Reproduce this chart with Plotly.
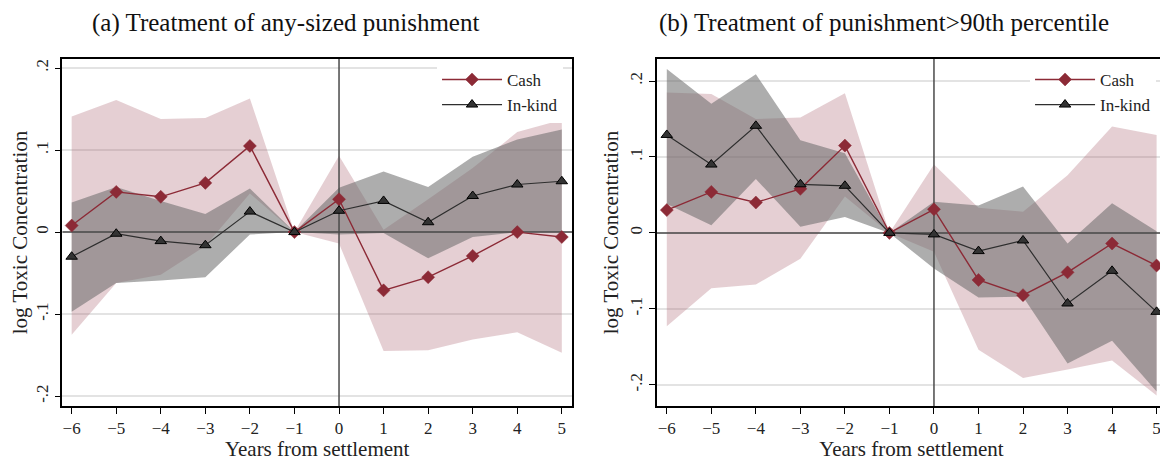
import plotly.graph_objects as go

years = [-6, -5, -4, -3, -2, -1, 0, 1, 2, 3, 4, 5]
tick_vals_y = [-0.2, -0.1, 0, 0.1, 0.2]
tick_text_y = ["-.2", "-.1", "0", ".1", ".2"]

# Panel (a): any-sized punishment
a_cash = [0.008, 0.049, 0.043, 0.060, 0.105, 0.0, 0.040, -0.071, -0.055, -0.029, 0.0, -0.006]
a_cash_hi = [0.141, 0.161, 0.138, 0.139, 0.163, 0.0, 0.093, 0.003, 0.040, 0.078, 0.122, 0.137]
a_cash_lo = [-0.125, -0.062, -0.052, -0.017, 0.047, 0.0, -0.014, -0.145, -0.144, -0.131, -0.122, -0.147]
a_kind = [-0.030, -0.002, -0.011, -0.016, 0.025, 0.0, 0.026, 0.038, 0.012, 0.044, 0.058, 0.062]
a_kind_hi = [0.036, 0.055, 0.038, 0.022, 0.053, 0.0, 0.054, 0.074, 0.055, 0.092, 0.113, 0.125]
a_kind_lo = [-0.097, -0.062, -0.059, -0.055, -0.003, 0.0, -0.003, -0.001, -0.032, -0.006, 0.0, 0.0]

# Panel (b): punishment > 90th percentile
b_cash = [0.030, 0.054, 0.040, 0.058, 0.115, 0.0, 0.031, -0.062, -0.082, -0.052, -0.014, -0.043]
b_cash_hi = [0.185, 0.183, 0.150, 0.152, 0.184, 0.0, 0.090, 0.033, 0.028, 0.076, 0.140, 0.129]
b_cash_lo = [-0.123, -0.073, -0.068, -0.034, 0.048, 0.0, -0.025, -0.154, -0.191, -0.180, -0.168, -0.214]
b_kind = [0.129, 0.090, 0.141, 0.064, 0.062, 0.0, -0.002, -0.024, -0.010, -0.093, -0.050, -0.104]
b_kind_hi = [0.216, 0.170, 0.209, 0.122, 0.105, 0.0, 0.041, 0.036, 0.061, -0.014, 0.039, 0.002]
b_kind_lo = [0.038, 0.010, 0.071, 0.008, 0.021, 0.0, -0.047, -0.085, -0.084, -0.172, -0.142, -0.209]

CASH = "#8C2A36"
KIND = "#2E2E2E"
PINK_FILL = "rgba(170,95,110,0.30)"
GRAY_FILL = "rgba(105,105,105,0.55)"
FONT = "Liberation Serif"

fig = go.Figure()

def add_panel(xa, ya, legend, cash, chi, clo, kind, khi, klo, xr, yr):
    fig.add_trace(go.Scatter(x=years + years[::-1], y=chi + clo[::-1], fill="toself",
                             fillcolor=PINK_FILL, line=dict(width=0), mode="lines",
                             hoverinfo="skip", showlegend=False, xaxis=xa, yaxis=ya))
    fig.add_trace(go.Scatter(x=years + years[::-1], y=khi + klo[::-1], fill="toself",
                             fillcolor=GRAY_FILL, line=dict(width=0), mode="lines",
                             hoverinfo="skip", showlegend=False, xaxis=xa, yaxis=ya))
    fig.add_trace(go.Scatter(x=[xr[0], xr[1]], y=[0, 0], mode="lines",
                             line=dict(color="#4a4a4a", width=1.5), hoverinfo="skip",
                             showlegend=False, xaxis=xa, yaxis=ya))
    fig.add_trace(go.Scatter(x=[0, 0], y=[yr[0], yr[1]], mode="lines",
                             line=dict(color="#4a4a4a", width=1.5), hoverinfo="skip",
                             showlegend=False, xaxis=xa, yaxis=ya))
    fig.add_trace(go.Scatter(x=years, y=cash, name="Cash", mode="lines+markers",
                             line=dict(color=CASH, width=1.4),
                             marker=dict(symbol="diamond", size=10, color=CASH,
                                         line=dict(color=CASH, width=0.5)),
                             xaxis=xa, yaxis=ya, legend=legend))
    fig.add_trace(go.Scatter(x=years, y=kind, name="In-kind", mode="lines+markers",
                             line=dict(color=KIND, width=1.2),
                             marker=dict(symbol="triangle-up", size=10, color="#333333",
                                         line=dict(color="#000000", width=1)),
                             xaxis=xa, yaxis=ya, legend=legend))

xr_a = [-6.21, 5.23]
yr_a = [-0.212, 0.211]
xr_b = [-6.224, 5.211]
yr_b = [-0.228, 0.229]

add_panel("x", "y", "legend", a_cash, a_cash_hi, a_cash_lo, a_kind, a_kind_hi, a_kind_lo, xr_a, yr_a)
add_panel("x2", "y2", "legend2", b_cash, b_cash_hi, b_cash_lo, b_kind, b_kind_hi, b_kind_lo, xr_b, yr_b)

xcommon = dict(tickmode="array", tickvals=years, ticks="outside", ticklen=6, tickwidth=1.2,
               tickcolor="black", showline=True, linecolor="black", linewidth=1.5, mirror=True,
               showgrid=False, zeroline=False,
               tickfont=dict(family=FONT, size=17, color="#222"),
               title=dict(text="Years from settlement", font=dict(family=FONT, size=21, color="#222"),
                          standoff=2))
ycommon = dict(tickmode="array", tickvals=tick_vals_y, ticktext=tick_text_y, tickangle=-90,
               ticks="outside", ticklen=6, tickwidth=1.2, tickcolor="black",
               showline=True, linecolor="black", linewidth=1.5, mirror=True,
               showgrid=True, gridcolor="#E3E3E3", gridwidth=1.5, zeroline=False,
               tickfont=dict(family=FONT, size=17, color="#222"),
               title=dict(text="log Toxic Concentration", font=dict(family=FONT, size=21, color="#222"),
                          standoff=3))

fig.update_layout(
    width=1160, height=453,
    margin=dict(l=0, r=0, t=0, b=0),
    paper_bgcolor="white", plot_bgcolor="white",
    xaxis=dict(domain=[0.0469, 0.4871], range=xr_a, anchor="y", **xcommon),
    yaxis=dict(domain=[0.1214, 0.8874], range=yr_a, anchor="x", **ycommon),
    xaxis2=dict(domain=[0.5603, 1.0], range=xr_b, anchor="y2", **xcommon),
    yaxis2=dict(domain=[0.1214, 0.8874], range=yr_b, anchor="x2", **ycommon),
    legend=dict(x=0.4793, xanchor="right", y=0.881, yanchor="top", bgcolor="white",
                font=dict(family=FONT, size=17, color="#222"), itemwidth=60, tracegroupgap=0),
    legend2=dict(x=0.9914, xanchor="right", y=0.881, yanchor="top", bgcolor="white",
                 font=dict(family=FONT, size=17, color="#222"), itemwidth=60, tracegroupgap=0),
    annotations=[
        dict(text="(a) Treatment of any-sized punishment", x=0.2397, y=0.966, xref="paper",
             yref="paper", showarrow=False, xanchor="center", yanchor="middle",
             font=dict(family=FONT, size=25, color="#111")),
        dict(text="(b) Treatment of punishment>90th percentile", x=0.7569, y=0.966, xref="paper",
             yref="paper", showarrow=False, xanchor="center", yanchor="middle",
             font=dict(family=FONT, size=25, color="#111")),
    ],
)

fig.write_html("out.html")
